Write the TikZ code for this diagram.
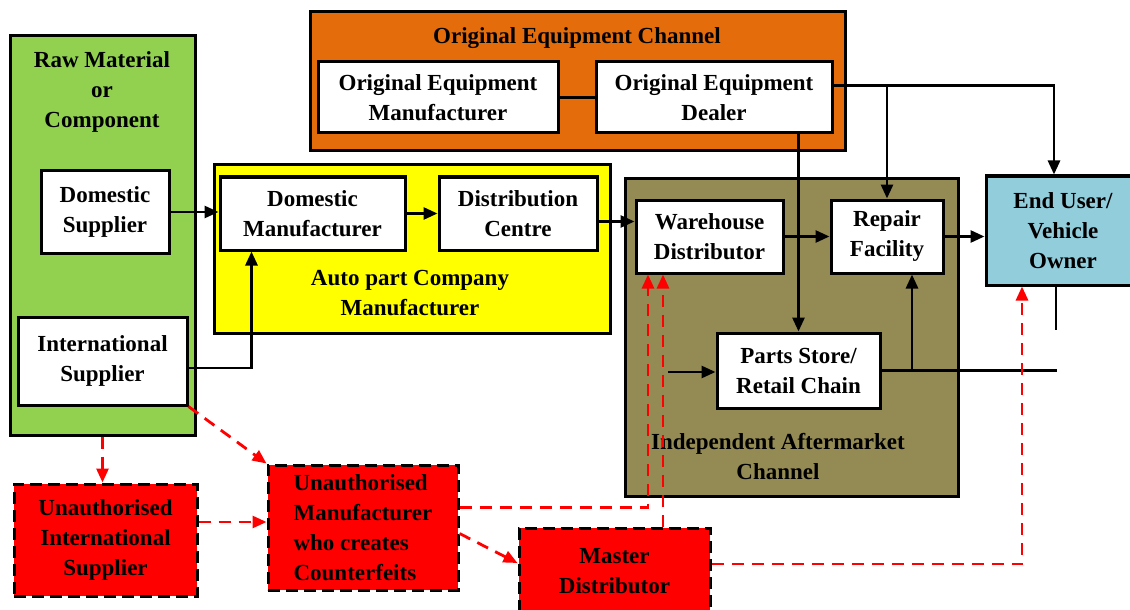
\documentclass[tikz,border=0pt]{standalone}
\usepackage{fontspec}
\setmainfont{Liberation Serif}
\usetikzlibrary{arrows.meta}
\definecolor{rawgreen}{RGB}{146,208,80}
\definecolor{oeorange}{RGB}{228,108,10}
\definecolor{apcyellow}{RGB}{255,255,0}
\definecolor{iamolive}{RGB}{148,138,84}
\definecolor{userblue}{RGB}{146,205,220}
\begin{document}
\begin{tikzpicture}[x=0.5pt, y=-0.5pt,
  font=\fontsize{11.5}{15}\selectfont\bfseries,
  group/.style={draw, line width=1.5pt, inner sep=0pt},
  box/.style={draw, line width=1.5pt, fill=white, inner sep=0pt, align=center},
  fakebox/.style={draw, line width=1.5pt, dash pattern=on 6pt off 3pt, fill=red, inner sep=0pt, align=center},
  flow/.style={line width=1.4pt, -{Triangle[length=7pt,width=6pt]}},
  fakeflow/.style={red, line width=1.4pt, dash pattern=on 6pt off 4pt, -{Triangle[length=7pt,width=6pt]}}]
\useasboundingbox (0,0) rectangle (1130,610);
% Rahmen
\node[group, fill=rawgreen, minimum width=92.5pt, minimum height=199.5pt] (raw) at (102.5,235.5) {};
\node[group, fill=oeorange, minimum width=267.5pt, minimum height=69.5pt] (oec) at (577.5,81.5) {};
\node[group, fill=apcyellow, minimum width=198pt, minimum height=84pt] (apc) at (412,249) {};
\node[group, fill=iamolive, minimum width=166.5pt, minimum height=159pt] (iam) at (791.5,337) {};
% Beschriftungen der Rahmen
\node[align=center] (rawtitle) at (102,92) {Raw Material\\or\\Component};
\node (oectitle) at (577,38) {Original Equipment Channel};
\node[align=center] (apctitle) at (410,293) {Auto part Company\\Manufacturer};
\node[align=center] (iamtitle) at (778,457) {Independent Aftermarket\\Channel};
% Kaesten
\node[box, minimum width=64pt, minimum height=41pt] (dsup) at (105,212) {Domestic\\Supplier};
\node[box, minimum width=84.5pt, minimum height=44pt] (isup) at (102.5,361) {International\\Supplier};
\node[box, minimum width=120pt, minimum height=35.5pt] (oem) at (438,97.5) {Original Equipment\\Manufacturer};
\node[box, minimum width=118pt, minimum height=35.5pt] (oed) at (714,97.5) {Original Equipment\\Dealer};
\node[box, minimum width=92.5pt, minimum height=36.5pt] (dman) at (312.5,213.5) {Domestic\\Manufacturer};
\node[box, minimum width=79pt, minimum height=36.5pt] (dcen) at (518,213.5) {Distribution\\Centre};
\node[box, minimum width=73.5pt, minimum height=36.5pt] (ware) at (709.5,236.5) {Warehouse\\Distributor};
\node[box, minimum width=56pt, minimum height=36.5pt] (rep) at (887,236.5) {Repair\\Facility};
\node[box, minimum width=81.5pt, minimum height=37.5pt] (parts) at (798.5,370.5) {Parts Store/\\Retail Chain};
\node[box, fill=userblue, minimum width=77pt, minimum height=54.5pt] (user) at (1063,230.5) {End User/\\Vehicle\\Owner};
% Faelschungen
\node[fakebox, minimum width=91.5pt, minimum height=56pt] (uisup) at (105.5,540) {Unauthorised\\International\\Supplier};
\node[fakebox, align=left, minimum width=95pt, minimum height=62.5pt] (uman) at (363,527.5) {Unauthorised\\Manufacturer\\who creates\\Counterfeits};
\node[fakebox, minimum width=95.5pt, minimum height=43pt] (mdis) at (614.5,571) {Master\\Distributor};
% Hilfspunkte
\coordinate (oeout) at ([yshift=6pt]oed.east);
\coordinate (pin) at (668,372);
\coordinate (pout) at (1057,372);
\coordinate (ustub) at (1056,330);
% Pfeile
\draw[line width=1.4pt] (oem.east) -- (oed.west);
\draw[flow] (dsup.east) -- (dsup.east -| dman.west);
\draw[flow] ([yshift=-3.5pt]isup.east) -| ([xshift=16.5pt]dman.south west);
\draw[flow] (dman.east) -- (dcen.west);
\draw[flow] ([yshift=-4pt]dcen.east) -- ([yshift=-4pt]dcen.east -| ware.west);
\draw[flow] (oeout) -| ([xshift=-4.5pt]user.north);
\draw[flow] (rep.north |- oeout) -- (rep.north);
\draw[flow] (parts.north |- oed.south) -- (parts.north);
\draw[flow] (ware.east) -- (rep.west);
\draw[flow] (rep.east) -- (rep.east -| user.west);
\draw[flow] (pin) -- (pin -| parts.west);
\draw[line width=1.4pt] (parts.east) -- (parts.east -| pout);
\draw[flow] ([xshift=12.5pt]rep.south |- parts.east) -- ([xshift=12.5pt]rep.south);
\draw[line width=1.4pt] (ustub |- user.south) -- (ustub);
% gestrichelte Pfeile
\draw[fakeflow] (raw.south) -- (raw.south |- uisup.north);
\draw[fakeflow] (isup.south east) -- (uman.north west);
\draw[fakeflow] ([yshift=9pt]uisup.east) -- ([yshift=9pt]uisup.east -| uman.west);
\draw[fakeflow] ([yshift=10pt]uman.east) -| ([xshift=-30.75pt]ware.south);
\draw[fakeflow] ([yshift=-3pt]uman.east) -- ([yshift=4pt]mdis.west);
\draw[fakeflow] ([xshift=-23.25pt]ware.south |- mdis.north) -- ([xshift=-23.25pt]ware.south);
\draw[fakeflow] ([yshift=3.5pt]mdis.east) -| ([xshift=-20.5pt]user.south);
\end{tikzpicture}
\end{document}
